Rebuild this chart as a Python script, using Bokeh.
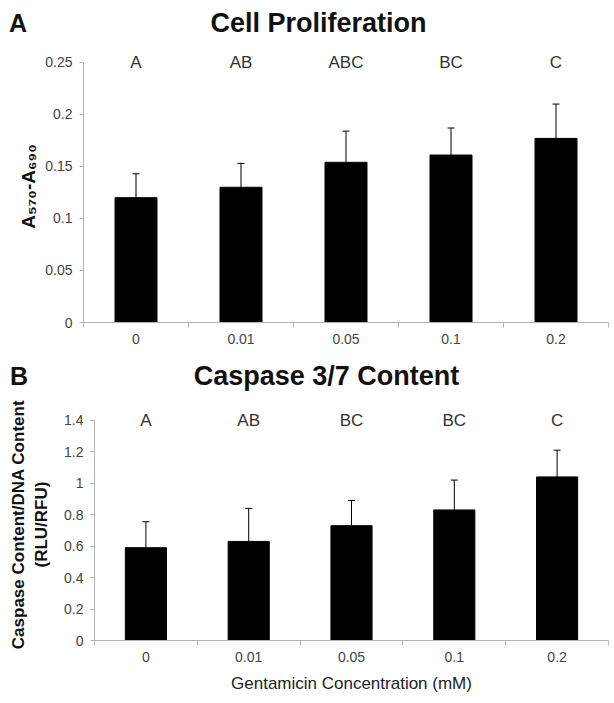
from bokeh.plotting import figure
from bokeh.models import (Range1d, FixedTicker, Whisker, TeeHead, LabelSet,
                          ColumnDataSource)
from bokeh.core.properties import value
from bokeh.layouts import column
from bokeh.embed import file_html
from bokeh.resources import INLINE

# ---- data ----
concentrations = ["0", "0.01", "0.05", "0.1", "0.2"]

prolif_mean = [0.120, 0.130, 0.154, 0.161, 0.177]
prolif_err = [0.023, 0.023, 0.030, 0.026, 0.033]
prolif_groups = ["A", "AB", "ABC", "BC", "C"]
prolif_ticks = [0, 0.05, 0.1, 0.15, 0.2, 0.25]
prolif_tick_labels = ["0", "0.05", "0.1", "0.15", "0.2", "0.25"]

casp_mean = [0.59, 0.63, 0.73, 0.83, 1.04]
casp_err = [0.165, 0.21, 0.16, 0.19, 0.17]
casp_groups = ["A", "AB", "BC", "BC", "C"]
casp_ticks = [0, 0.2, 0.4, 0.6, 0.8, 1.0, 1.2, 1.4]
casp_tick_labels = ["0", "0.2", "0.4", "0.6", "0.8", "1", "1.2", "1.4"]

FONT = "Liberation Sans"
AXIS_GREY = "#b4b4b4"
TICK_TXT = "#444444"
W = 614


def no_align(fig):
    try:
        fig.frame_align = False
    except Exception:
        pass


def make_header(letter, title, height, letter_x, title_x, y):
    h = figure(width=W, height=height, output_backend="svg", toolbar_location=None,
               x_range=Range1d(0, W), y_range=Range1d(0, height),
               x_axis_location=None, y_axis_location=None,
               min_border=0, min_border_left=0, min_border_right=0,
               min_border_top=0, min_border_bottom=0)
    no_align(h)
    h.outline_line_color = None
    h.grid.visible = False
    h.text(x=[letter_x], y=[y], text=[letter], text_font=value(FONT),
           text_font_size="25px", text_font_style="bold", text_align="center",
           text_baseline="middle", text_color="#111111")
    h.text(x=[title_x], y=[y], text=[title], text_font=value(FONT),
           text_font_size="27px", text_font_style="bold", text_align="center",
           text_baseline="middle", text_color="#111111")
    return h


def make_panel(means, errs, groups, yticks, ytick_labels, y_end,
               ylabel, height, border_left, border_top, border_bottom,
               ylabel_size, ylabel_standoff, xlabel=None):
    n = len(concentrations)
    xs = [i + 0.5 for i in range(n)]
    ymax = yticks[-1]
    src = ColumnDataSource(dict(
        x=xs, top=means, upper=[m + e for m, e in zip(means, errs)],
        grp=groups, ylab=[ymax] * n))

    p = figure(width=W, height=height, output_backend="svg", toolbar_location=None,
               x_range=Range1d(0, n), y_range=Range1d(0, y_end),
               min_border_left=border_left, min_border_right=6,
               min_border_top=border_top, min_border_bottom=border_bottom,
               background_fill_color="white", border_fill_color="white")
    no_align(p)
    p.outline_line_color = None
    p.grid.visible = False

    p.vbar(x="x", top="top", width=0.4, bottom=0, source=src,
           fill_color="black", line_color="black")
    p.add_layout(Whisker(base="x", upper="upper", lower="top", source=src,
                         dimension="height", line_color="black", line_width=1,
                         upper_head=TeeHead(size=7, line_color="black", line_width=1),
                         lower_head=None))
    p.add_layout(LabelSet(x="x", y="ylab", text="grp", source=src,
                          text_align="center", text_baseline="middle",
                          text_font=value(FONT), text_font_size="17px",
                          text_color="#333333"))

    # x axis
    xa = p.xaxis[0]
    xa.ticker = FixedTicker(ticks=xs, minor_ticks=list(range(n + 1)))
    xa.major_label_overrides = {x: c for x, c in zip(xs, concentrations)}
    xa.major_tick_line_color = None
    xa.major_tick_out = 0
    xa.major_tick_in = 0
    xa.minor_tick_out = 5
    xa.minor_tick_in = 0
    xa.minor_tick_line_color = AXIS_GREY
    xa.axis_line_color = AXIS_GREY
    xa.major_label_text_font = FONT
    xa.major_label_text_font_size = "14px"
    xa.major_label_text_color = TICK_TXT
    xa.major_label_standoff = 6
    if xlabel:
        xa.axis_label = xlabel
        xa.axis_label_text_font = FONT
        xa.axis_label_text_font_size = "17px"
        xa.axis_label_text_font_style = "normal"
        xa.axis_label_text_color = "#222222"
        xa.axis_label_standoff = 9

    # y axis
    ya = p.yaxis[0]
    ya.ticker = FixedTicker(ticks=yticks)
    ya.bounds = (0, ymax)
    ya.major_label_overrides = {t: l for t, l in zip(yticks, ytick_labels)}
    ya.axis_line_color = AXIS_GREY
    ya.major_tick_line_color = AXIS_GREY
    ya.major_tick_out = 4
    ya.major_tick_in = 0
    ya.minor_tick_line_color = None
    ya.major_label_text_font = FONT
    ya.major_label_text_font_size = "14px"
    ya.major_label_text_color = TICK_TXT
    ya.major_label_standoff = 7
    ya.axis_label = ylabel
    ya.axis_label_text_font = FONT
    ya.axis_label_text_font_size = ylabel_size
    ya.axis_label_text_font_style = "bold"
    ya.axis_label_text_color = "#111111"
    ya.axis_label_standoff = ylabel_standoff
    return p


hA = make_header("A", "Cell Proliferation", 48, 17.5, 318, 26)
pA = make_panel(prolif_mean, prolif_err, prolif_groups, prolif_ticks, prolif_tick_labels,
                0.2615, "A\u2085\u2087\u2080-A\u2086\u2089\u2080",
                height=304, border_left=83, border_top=2, border_bottom=30,
                ylabel_size="19px", ylabel_standoff=3)

hB = make_header("B", "Caspase 3/7 Content", 40, 18.5, 326, 17)
pB = make_panel(casp_mean, casp_err, casp_groups, casp_ticks, casp_tick_labels,
                1.475, "Caspase Content/DNA Content\n(RLU/RFU)",
                height=303, border_left=94, border_top=16, border_bottom=52,
                ylabel_size="17px", ylabel_standoff=10,
                xlabel="Gentamicin Concentration (mM)")

layout = column(hA, pA, hB, pB, spacing=0)
open("out.html", "w").write(file_html(layout, INLINE))
